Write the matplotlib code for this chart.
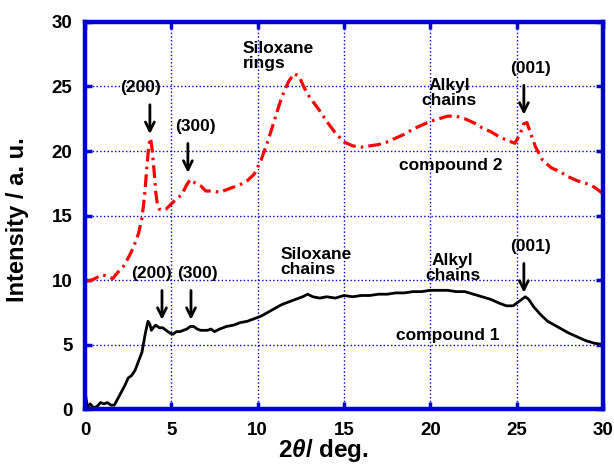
import matplotlib
matplotlib.use("Agg")
import matplotlib.pyplot as plt

plt.rcParams["font.family"] = ["Liberation Sans", "DejaVu Sans"]
plt.rcParams["font.weight"] = "bold"
plt.rcParams["mathtext.fontset"] = "custom"
plt.rcParams["mathtext.it"] = "Liberation Sans:italic:bold"
plt.rcParams["mathtext.rm"] = "Liberation Sans:bold"

# compound 1 (black, solid)
x1 = [0.0, 0.05, 0.15, 0.3, 0.5, 0.7, 0.9, 1.1, 1.3, 1.5, 1.7, 1.9, 2.1, 2.3, 2.5, 2.7,
      2.9, 3.1, 3.3, 3.5, 3.65, 3.75, 3.85, 3.95, 4.1, 4.3, 4.5, 4.7, 4.9, 5.1, 5.3, 5.5,
      5.7, 5.9, 6.1, 6.3, 6.5, 6.7, 6.9, 7.1, 7.3, 7.5, 7.8, 8.2, 8.6, 9.0, 9.4, 9.8,
      10.2, 10.6, 11.0, 11.4, 11.8, 12.2, 12.6, 12.9, 13.2, 13.6, 14.0, 14.5, 15.0,
      15.5, 16.0, 16.5, 17.0, 17.5, 18.0, 18.5, 19.0, 19.5, 20.0, 20.5, 21.0, 21.5,
      22.0, 22.5, 23.0, 23.5, 24.0, 24.4, 24.8, 25.1, 25.3, 25.5, 25.7, 26.0, 26.4,
      26.8, 27.2, 27.6, 28.0, 28.5, 29.0, 29.5, 30.0]
y1 = [1.6, 0.9, 0.1, 0.4, 0.1, 0.2, 0.5, 0.4, 0.5, 0.3, 0.3, 0.8, 1.3, 1.8, 2.4, 2.6,
      3.0, 3.7, 4.4, 5.9, 6.8, 6.6, 6.1, 6.3, 6.5, 6.3, 6.3, 6.1, 5.9, 5.8, 6.0, 6.0,
      6.1, 6.2, 6.4, 6.4, 6.2, 6.1, 6.1, 6.1, 6.2, 6.0, 6.2, 6.4, 6.5, 6.7, 6.8, 7.0,
      7.2, 7.5, 7.8, 8.1, 8.3, 8.5, 8.7, 8.9, 8.7, 8.6, 8.7, 8.6, 8.8,
      8.7, 8.8, 8.8, 8.9, 8.9, 9.0, 9.0, 9.1, 9.1, 9.2, 9.2, 9.2, 9.1,
      9.1, 8.9, 8.7, 8.5, 8.2, 8.0, 8.0, 8.3, 8.5, 8.7, 8.5, 7.9, 7.3,
      6.8, 6.5, 6.2, 5.9, 5.6, 5.3, 5.1, 5.0]

# compound 2 (red, dash-dot)
x2 = [0.1, 0.4, 0.7, 1.0, 1.3, 1.6, 1.9, 2.2, 2.5, 2.8, 3.1, 3.3, 3.45, 3.6, 3.7,
      3.8, 3.9, 4.0, 4.1, 4.2, 4.3, 4.5, 4.7, 5.0, 5.3, 5.6, 5.9, 6.1, 6.4, 6.7,
      7.0, 7.4, 7.8, 8.2, 8.6, 9.0, 9.4, 9.8, 10.2, 10.6, 11.0, 11.4, 11.8, 12.1,
      12.4, 12.7, 13.0, 13.5, 14.0, 14.5, 15.0, 15.5, 16.0, 16.5, 17.0, 17.5, 18.0,
      18.5, 19.0, 19.5, 20.0, 20.5, 21.0, 21.5, 22.0, 22.5, 23.0, 23.5, 24.0, 24.5,
      24.9, 25.2, 25.4, 25.6, 25.8, 26.1, 26.5, 27.0, 27.5, 28.0, 28.5, 29.0, 29.5,
      30.0]
y2 = [9.9, 10.0, 10.2, 10.4, 10.3, 10.1, 10.6, 11.0, 11.7, 12.5, 13.6, 14.8, 16.5,
      19.0, 20.5, 21.0, 20.0, 18.5, 16.8, 15.8, 15.5, 15.4, 15.5, 15.9, 16.3, 16.6,
      17.4, 17.8, 17.5, 17.3, 16.9, 16.9, 16.8, 17.0, 17.2, 17.4, 17.7, 18.2, 19.3,
      20.8, 22.5, 24.2, 25.4, 26.0, 25.8, 24.9, 24.2, 23.3, 22.3, 21.4, 20.7, 20.4,
      20.3, 20.4, 20.5, 20.7, 21.0, 21.3, 21.7, 22.0, 22.3, 22.5, 22.7, 22.7, 22.5,
      22.2, 21.8, 21.5, 21.1, 20.8, 20.6, 21.3, 22.1, 22.2, 21.4, 20.3, 19.3, 18.7,
      18.4, 18.0, 17.7, 17.5, 17.2, 16.7]

xticks = [0, 5, 10, 15, 20, 25, 30]
yticks = [0, 5, 10, 15, 20, 25, 30]

BLUE = "#0000CC"

fig = plt.figure(figsize=(6.14, 4.65), dpi=100)
ax = fig.add_axes([0.1384, 0.1204, 0.8436, 0.8323])

ax.plot(x1, y1, color="black", lw=2.0)
ax.plot(x2, y2, color="red", lw=2.3, dashes=[4, 1.6, 0.8, 1.6])

ax.set_xlim(0, 30)
ax.set_ylim(0, 30)
ax.set_xticks(xticks)
ax.set_yticks(yticks)
ax.grid(True, color=BLUE, linestyle=":", lw=1.0)
for s in ax.spines.values():
    s.set_color(BLUE)
    s.set_linewidth(3.2)
ax.tick_params(direction="in", length=5, width=2.5, color=BLUE, labelsize=13.5,
               top=True, right=True, pad=9)
for lab in ax.get_xticklabels() + ax.get_yticklabels():
    lab.set_fontweight("bold")

ax.set_ylabel("Intensity / a. u.", fontsize=17, fontweight="bold")
ax.yaxis.set_label_coords(-0.108, 0.49)
ax.set_xlabel(r"2$\theta$/ deg.", fontsize=17.5, fontweight="bold")
ax.xaxis.set_label_coords(0.46, -0.072)

fs = 12.5
arrow = dict(arrowstyle="->", color="black", lw=2.0, mutation_scale=16)

# compound 2 annotations
ax.text(9.15, 27.4, "Siloxane\nrings", fontsize=fs, fontweight="bold", ha="left",
        va="center", linespacing=1.0)
ax.text(21.1, 24.5, "Alkyl\nchains", fontsize=fs, fontweight="bold", ha="center",
        va="center", linespacing=1.0)
ax.text(21.2, 18.9, "compound 2", fontsize=fs, fontweight="bold", ha="center", va="center")
ax.text(3.24, 24.9, "(200)", fontsize=fs, fontweight="bold", ha="center", va="center")
ax.annotate("", xy=(3.76, 21.1), xytext=(3.76, 23.8), arrowprops=arrow)
ax.text(6.37, 21.9, "(300)", fontsize=fs, fontweight="bold", ha="center", va="center")
ax.annotate("", xy=(5.96, 18.1), xytext=(5.96, 20.8), arrowprops=arrow)
ax.text(25.8, 26.4, "(001)", fontsize=fs, fontweight="bold", ha="center", va="center")
ax.annotate("", xy=(25.42, 22.6), xytext=(25.42, 25.3), arrowprops=arrow)

# compound 1 annotations
ax.text(11.3, 11.4, "Siloxane\nchains", fontsize=fs, fontweight="bold", ha="left",
        va="center", linespacing=1.0)
ax.text(21.3, 10.9, "Alkyl\nchains", fontsize=fs, fontweight="bold", ha="center",
        va="center", linespacing=1.0)
ax.text(21.0, 5.7, "compound 1", fontsize=fs, fontweight="bold", ha="center", va="center")
ax.text(3.88, 10.5, "(200)", fontsize=fs, fontweight="bold", ha="center", va="center")
ax.annotate("", xy=(4.46, 6.7), xytext=(4.46, 9.4), arrowprops=arrow)
ax.text(6.49, 10.5, "(300)", fontsize=fs, fontweight="bold", ha="center", va="center")
ax.annotate("", xy=(6.14, 6.7), xytext=(6.14, 9.4), arrowprops=arrow)
ax.text(25.8, 12.6, "(001)", fontsize=fs, fontweight="bold", ha="center", va="center")
ax.annotate("", xy=(25.42, 8.8), xytext=(25.42, 11.5), arrowprops=arrow)

fig.savefig("out.png", dpi=100)
